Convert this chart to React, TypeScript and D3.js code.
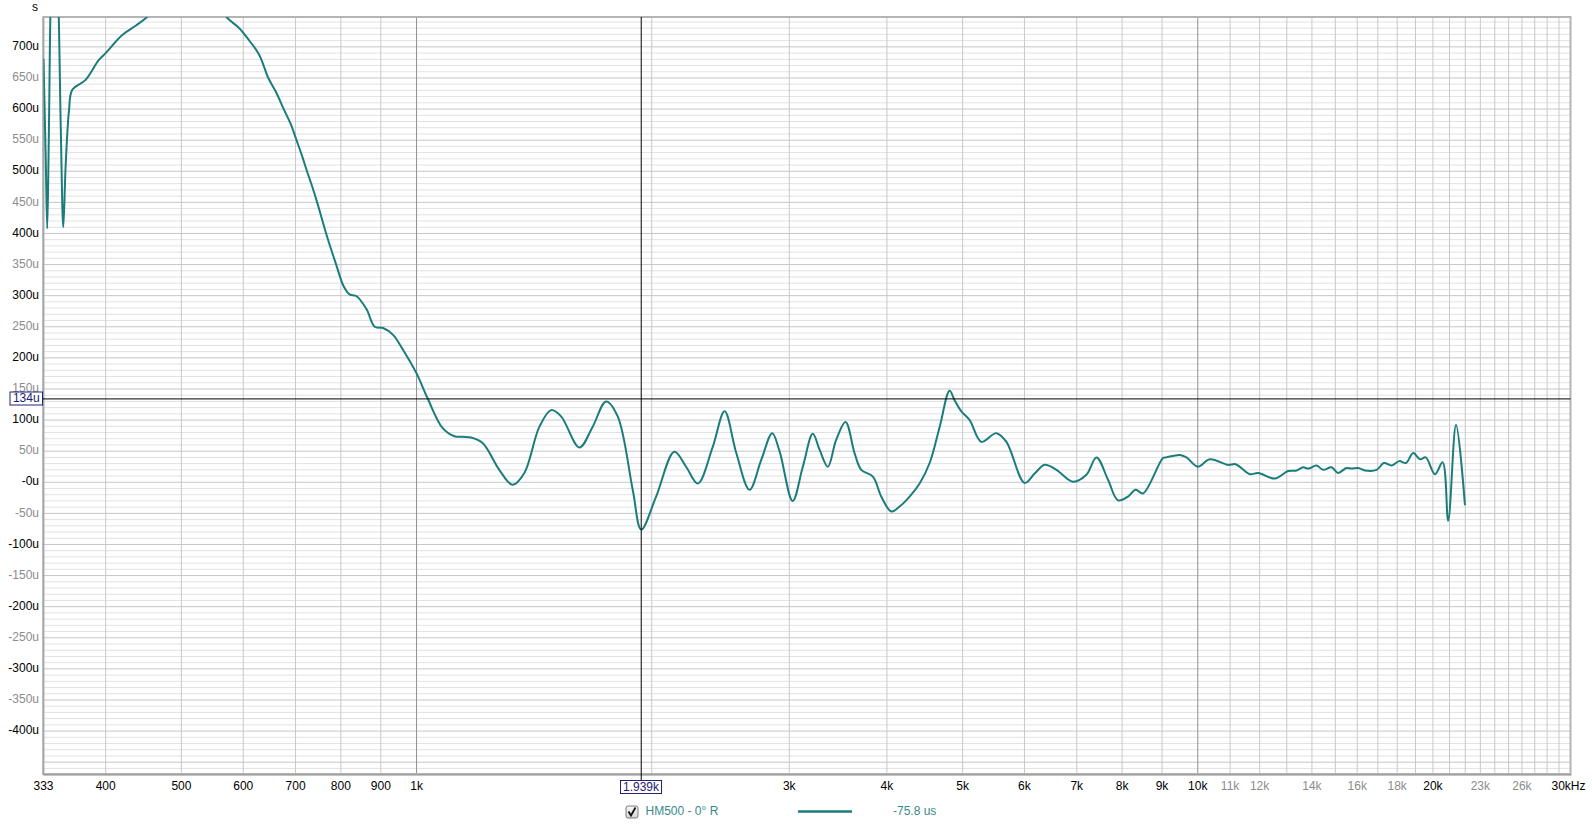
import React from "react";
import * as d3 from "d3";

// ---- data (frequency in Hz, group delay in microseconds) ----
const freqs = [
  333, 335.2, 336.7, 338.3, 340.5, 344, 347.5, 350.5, 353, 355.5, 359, 362.5, 377, 392, 400, 420, 437, 450,
  470, 500, 530, 555, 573, 593, 610, 629, 646, 661, 676, 690, 702, 713, 724, 735, 746, 756, 766, 778, 789, 806,
  821, 838, 863, 884, 906, 933, 962,
  1000, 1033, 1080, 1118, 1145, 1174, 1215, 1276, 1327, 1374, 1436, 1487, 1531, 1616, 1680, 1748, 1809, 1891,
  1939, 2026, 2138, 2213, 2291, 2394, 2479, 2566, 2668, 2762, 2853, 2915, 3030, 3122, 3215, 3281, 3361, 3444,
  3541, 3636, 3709, 3838, 3934, 4053, 4152, 4277, 4405, 4537, 4673, 4812, 4883, 4982, 5105, 5284, 5523, 5689,
  6003, 6183, 6368, 6592, 6923, 7200, 7418, 7676, 7905, 8141, 8328, 8510, 9026, 9115, 9484, 9672, 10000,
  10360, 10940, 11180, 11660, 11950, 12550, 13050, 13380, 13640, 13860, 14190, 14470, 14830, 15120, 15500,
  15730, 16050, 16370, 16940, 17310, 17710, 18110, 18470, 18870, 19250, 19580, 20120, 20580, 20920, 21410, 21980,
];
const delays = [
  681, 520, 408, 560, 800, 920, 800, 561, 410, 510, 598, 631, 647, 679, 690, 719, 734, 746,
  770, 790, 788, 768, 746, 730, 711, 687, 650, 627, 600, 576, 550, 526, 500, 476, 450, 425, 400, 373, 350, 316,
  302, 299, 278, 250, 248, 237, 212,
  175, 135, 87, 74, 73, 72, 63, 20, -4, 15, 89, 116, 106, 56, 89, 130, 106, -12,
  -76, -23, 49, 25, -2, 57, 114, 47, -12, 36, 79, 50, -30, 25, 78, 52, 25, 68,
  97, 47, 20, 9, -23, -47, -39, -23, -2, 31, 89, 147, 132, 114, 100, 65, 79, 65,
  -1, 14, 28, 20, 1, 12, 40, 4, -29, -23, -12, -18, 39, 40, 44, 40, 25,
  37, 28, 29, 13, 15, 6, 18, 19, 24, 22, 27, 20, 24, 15, 23,
  22, 23, 19, 20, 31, 27, 34, 31, 47, 37, 40, 13, 32, -62, 92, -37,
];

const yTickValues = d3.range(-400, 701, 50);
const xTickValues = [333, 400, 500, 600, 700, 800, 900, 1000, 3000, 4000, 5000, 6000, 7000, 8000, 9000, 10000, 11000, 12000, 14000, 16000, 18000, 20000, 23000, 26000, 30000];
const xTickLabels = ["333", "400", "500", "600", "700", "800", "900", "1k", "3k", "4k", "5k", "6k", "7k", "8k", "9k", "10k", "11k", "12k", "14k", "16k", "18k", "20k", "23k", "26k", "30kHz"];
const xMinorLabelValues = [11000, 12000, 14000, 16000, 18000, 23000, 26000];
const xGridValues = [
  400, 500, 600, 700, 800, 900, 1000, 2000, 3000, 4000, 5000, 6000, 7000, 8000, 9000, 10000,
  11000, 12000, 13000, 14000, 15000, 16000, 17000, 18000, 19000, 20000, 21000, 22000, 23000, 24000,
  25000, 26000, 27000, 28000, 29000,
];
const cursorFreq = 1939;
const cursorDelay = 134;
const cursorFreqLabel = "1.939k";
const cursorDelayLabel = "134u";
const seriesName = "HM500 - 0° R";
const seriesValueLabel = "-75.8 us";

const W = 1592;
const H = 826;
const L = 43.5, R = 1570.5, T = 17, B = 774;
const TEAL = "#1b7d7b";
const FONT = "'Liberation Sans', Arial, sans-serif";

export default function App() {
  const x = d3.scaleLog().domain([333, 30000]).range([L, R]);
  const y = d3.scaleLinear().domain([-469, 748]).range([B, T]);
  const pts: [number, number][] = freqs.map((f, i) => [x(f), y(delays[i])]);
  const line = d3.line().curve(d3.curveCatmullRom.alpha(0.5))(pts) || "";
  const hGrid = d3.range(-460, 741, 10);
  const cx = x(cursorFreq);
  const cy = y(cursorDelay);

  return (
    <svg width={W} height={H} style={{ position: "absolute", left: 0, top: 0, background: "#fff" }} fontFamily={FONT}>
      <defs>
        <clipPath id="plotclip">
          <rect x={L} y={T} width={R - L} height={B - T} />
        </clipPath>
        <linearGradient id="cbg" x1="0" y1="0" x2="0" y2="1">
          <stop offset="0" stopColor="#fafafa" />
          <stop offset="1" stopColor="#d4d4d4" />
        </linearGradient>
      </defs>
      <rect x={L} y={T} width={R - L} height={B - T} fill="#fff" />
      {hGrid.map((v) => (
        <line key={"h" + v} x1={L} x2={R} y1={y(v)} y2={y(v)} stroke={v % 50 === 0 ? "#c6c6c6" : "#e2e2e2"} strokeWidth={1} />
      ))}
      {xGridValues.map((f) => (
        <line key={"v" + f} x1={x(f)} x2={x(f)} y1={T} y2={B} stroke={f === 1000 || f === 10000 ? "#8e8e8e" : "#c8c8c8"} strokeWidth={1} />
      ))}
      {/* frame */}
      <rect x={L} y={T} width={R - L} height={B - T} fill="none" stroke="#b4b4b4" strokeWidth={2} />
      <line x1={L - 0.5} x2={L - 0.5} y1={T} y2={B + 1} stroke="#9a9a9a" strokeWidth={1} />
      <line x1={L} x2={R + 1} y1={B + 1} y2={B + 1} stroke="#8a8a8a" strokeWidth={1} />

      {/* curve */}
      <path d={line} fill="none" stroke={TEAL} strokeWidth={2} clipPath="url(#plotclip)" strokeLinejoin="round" />

      {/* cursors */}
      <line x1={L - 1} x2={R} y1={cy} y2={cy} stroke="#000" strokeWidth={1} />
      <line x1={cx} x2={cx} y1={T} y2={780.5} stroke="#000" strokeWidth={1} />

      {/* y labels */}
      <text x={35} y={8} fontSize={12} textAnchor="middle" dominantBaseline="middle" fill="#000">s</text>
      {yTickValues.map((v) => (
        <text key={"yl" + v} x={39} y={y(v)} fontSize={12} textAnchor="end" dominantBaseline="middle" fill={v % 100 === 0 ? "#000" : "#8c8c8c"}>
          {v === 0 ? "-0u" : `${v}u`}
        </text>
      ))}
      <rect x={10} y={392} width={32.5} height={13} fill="#fff" stroke="#22227a" strokeWidth={1} />
      <text x={26.3} y={399} fontSize={12} textAnchor="middle" dominantBaseline="middle" fill="#1c1c70">{cursorDelayLabel}</text>

      {/* x labels */}
      {xTickValues.map((f, i) => (
        <text key={"xl" + f} x={x(f) + (f === 30000 ? -2 : 0)} y={787} fontSize={12} textAnchor="middle" dominantBaseline="middle" fill={xMinorLabelValues.includes(f) ? "#8c8c8c" : "#000"}>
          {xTickLabels[i]}
        </text>
      ))}
      <rect x={620.5} y={780.5} width={41} height={13} fill="#fff" stroke="#22227a" strokeWidth={1} />
      <text x={641} y={787.5} fontSize={12} textAnchor="middle" dominantBaseline="middle" fill="#1c1c70">{cursorFreqLabel}</text>

      {/* legend */}
      <rect x={626} y={806} width={12} height={12} rx={2} fill="url(#cbg)" stroke="#7a7a7a" strokeWidth={1} />
      <path d="M628.5,811.5 L631,815.5 L635.5,807.5" fill="none" stroke="#111" strokeWidth={1.8} />
      <text x={645.5} y={812} fontSize={12} dominantBaseline="middle" fill="#3a8b8b">{seriesName}</text>
      <line x1={798} x2={852} y1={811.5} y2={811.5} stroke={TEAL} strokeWidth={2.5} />
      <text x={893} y={812} fontSize={12} dominantBaseline="middle" fill="#3a8b8b">{seriesValueLabel}</text>
    </svg>
  );
}
